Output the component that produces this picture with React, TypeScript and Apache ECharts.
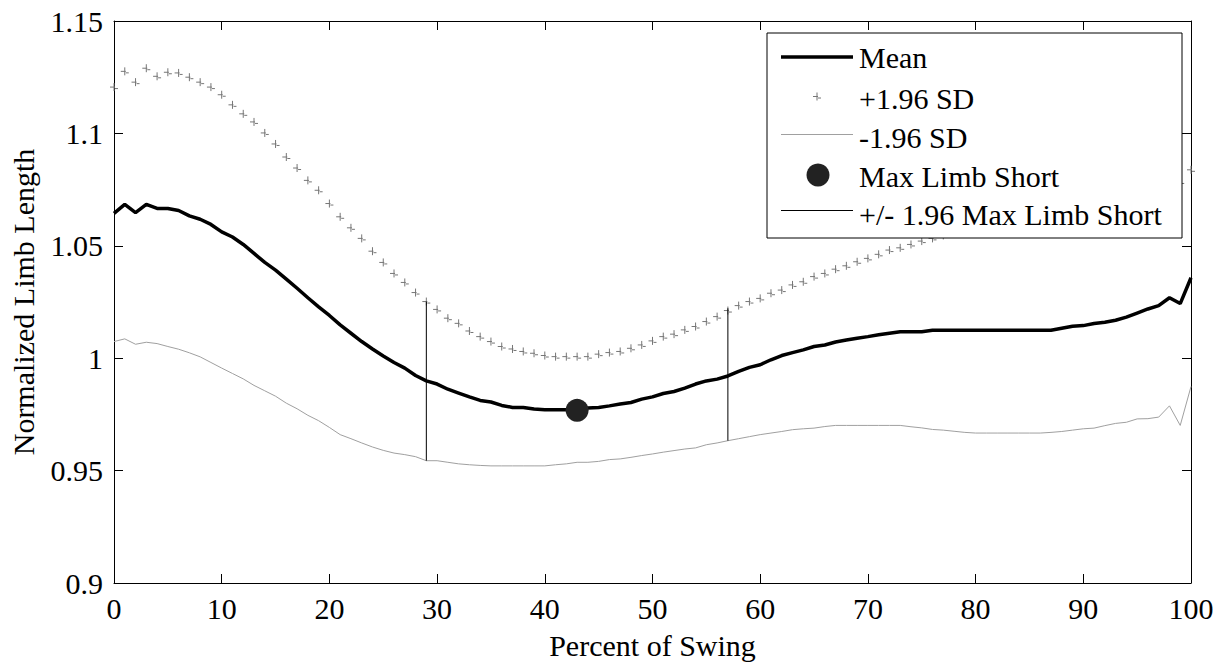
import React, { useEffect, useRef } from "react";
import * as echarts from "echarts";

// Percent of swing (x positions)
const percent: number[] = Array.from({ length: 101 }, (_, i) => i);

const meanValues: number[] = [
  1.0644, 1.0684, 1.0648, 1.0684, 1.0666, 1.0666, 1.0657, 1.0633, 1.0618, 1.0595,
  1.0562, 1.0539, 1.0506, 1.0466, 1.0426, 1.0392, 1.0352, 1.0311, 1.0269, 1.0228,
  1.0190, 1.0148, 1.0111, 1.0074, 1.0041, 1.0010, 0.9981, 0.9956, 0.9923, 0.9899,
  0.9885, 0.9862, 0.9845, 0.9828, 0.9812, 0.9805, 0.9790, 0.9781, 0.9781, 0.9774,
  0.9771, 0.9771, 0.9771, 0.9771, 0.9778, 0.9781, 0.9788, 0.9796, 0.9803, 0.9818,
  0.9828, 0.9843, 0.9852, 0.9867, 0.9885, 0.9899, 0.9907, 0.9921, 0.9941, 0.9959,
  0.9971, 0.9993, 1.0012, 1.0025, 1.0037, 1.0052, 1.0059, 1.0072, 1.0081, 1.0089,
  1.0096, 1.0104, 1.0111, 1.0118, 1.0118, 1.0118, 1.0124, 1.0124, 1.0124, 1.0124,
  1.0124, 1.0124, 1.0124, 1.0124, 1.0124, 1.0124, 1.0124, 1.0124, 1.0133, 1.0142,
  1.0145, 1.0154, 1.0160, 1.0169, 1.0183, 1.0201, 1.0219, 1.0234, 1.0269, 1.0243,
  1.0358,
];

const upperValues: number[] = [
  1.1206, 1.1276, 1.1228, 1.1290, 1.1254, 1.1272, 1.1269, 1.1250, 1.1228, 1.1206,
  1.1172, 1.1127, 1.1087, 1.1051, 1.1002, 1.0953, 1.0895, 1.0846, 1.0791, 1.0747,
  1.0688, 1.0629, 1.0580, 1.0533, 1.0476, 1.0426, 1.0377, 1.0337, 1.0292, 1.0252,
  1.0217, 1.0178, 1.0155, 1.0121, 1.0096, 1.0074, 1.0052, 1.0041, 1.0030, 1.0022,
  1.0012, 1.0007, 1.0007, 1.0007, 1.0007, 1.0018, 1.0025, 1.0030, 1.0044, 1.0059,
  1.0077, 1.0096, 1.0107, 1.0126, 1.0141, 1.0163, 1.0185, 1.0212, 1.0234, 1.0252,
  1.0266, 1.0289, 1.0303, 1.0326, 1.0340, 1.0363, 1.0377, 1.0396, 1.0411, 1.0429,
  1.0444, 1.0462, 1.0481, 1.0491, 1.0506, 1.0521, 1.0533, 1.0546, 1.0558, 1.0569,
  1.0581, 1.0592, 1.0604, 1.0615, 1.0627, 1.0638, 1.0650, 1.0661, 1.0672, 1.0684,
  1.0695, 1.0707, 1.0718, 1.0730, 1.0741, 1.0752, 1.0764, 1.0778, 1.0801, 1.0784,
  1.0838,
];

const lowerValues: number[] = [
  1.0074, 1.0086, 1.0062, 1.0071, 1.0065, 1.0052, 1.0040, 1.0024, 1.0006, 0.9981,
  0.9956, 0.9932, 0.9908, 0.9879, 0.9855, 0.9831, 0.9800, 0.9775, 0.9746, 0.9722,
  0.9692, 0.9660, 0.9642, 0.9623, 0.9605, 0.9590, 0.9578, 0.9571, 0.9562, 0.9544,
  0.9544, 0.9537, 0.9530, 0.9526, 0.9523, 0.9521, 0.9521, 0.9521, 0.9521, 0.9521,
  0.9521, 0.9526, 0.9530, 0.9537, 0.9537, 0.9541, 0.9549, 0.9552, 0.9559, 0.9567,
  0.9574, 0.9582, 0.9589, 0.9596, 0.9601, 0.9615, 0.9623, 0.9633, 0.9642, 0.9651,
  0.9660, 0.9667, 0.9674, 0.9682, 0.9686, 0.9689, 0.9696, 0.9701, 0.9701, 0.9701,
  0.9701, 0.9701, 0.9701, 0.9701, 0.9695, 0.9690, 0.9683, 0.9680, 0.9675, 0.9670,
  0.9667, 0.9667, 0.9667, 0.9667, 0.9667, 0.9667, 0.9667, 0.9670, 0.9674, 0.9680,
  0.9686, 0.9689, 0.9700, 0.9710, 0.9715, 0.9730, 0.9731, 0.9738, 0.9788, 0.9701,
  0.9874,
];

const maxLimbShortX = 43;
const maxLimbShortY = 0.9768;

const limbShortBarX: number[] = [29, 57];
const limbShortBarLow: number[] = [0.9544, 0.9633];
const limbShortBarHigh: number[] = [1.0252, 1.0222];

const legendLabels: string[] = [
  "Mean",
  "+1.96 SD",
  "-1.96 SD",
  "Max Limb Short",
  "+/- 1.96 Max Limb Short",
];

const FONT = "Liberation Serif";
const PLUS_COLOR = "#767676";
const LOWER_COLOR = "#a0a0a0";

export default function App() {
  const ref = useRef<HTMLDivElement>(null);

  useEffect(() => {
    document.body.style.margin = "0";
    if (!ref.current) return;
    const chart = echarts.init(ref.current, undefined, { renderer: "svg" });

    const axisCommon = {
      type: "value" as const,
      splitLine: { show: false },
      axisLine: { show: true, onZero: false, lineStyle: { color: "#000", width: 1 } },
      axisTick: { show: true, inside: true, length: 9, lineStyle: { color: "#000", width: 1 } },
    };

    const barSeries = limbShortBarX.map((x, i) => ({
      type: "line" as const,
      name: legendLabels[4],
      data: [
        [x, limbShortBarLow[i]],
        [x, limbShortBarHigh[i]],
      ],
      symbol: "none",
      lineStyle: { color: "#000", width: 1 },
      z: 3,
    }));

    const legendX = 767;
    const legendY = 33;
    const rowY = [57.5, 98, 137, 176, 214.5];
    const sampleX1 = 781;
    const sampleX2 = 853;
    const textX = 859;
    const textStyle = (text: string) => ({
      text,
      fill: "#000",
      fontFamily: FONT,
      fontSize: 30,
      textAlign: "left",
      textVerticalAlign: "middle",
      align: "left",
      verticalAlign: "middle",
    });

    chart.setOption({
      animation: false,
      backgroundColor: "#fff",
      textStyle: { fontFamily: FONT },
      grid: { left: 114, right: 38, top: 21, bottom: 81, containLabel: false },
      xAxis: [
        {
          ...axisCommon,
          position: "bottom",
          min: 0,
          max: 100,
          interval: 10,
          name: "Percent of Swing",
          nameLocation: "middle",
          nameGap: 47,
          nameTextStyle: { fontFamily: FONT, fontSize: 30, color: "#000" },
          axisLabel: { fontFamily: FONT, fontSize: 30, color: "#000", margin: 10 },
        },
        {
          ...axisCommon,
          position: "top",
          min: 0,
          max: 100,
          interval: 10,
          axisLabel: { show: false },
        },
      ],
      yAxis: [
        {
          ...axisCommon,
          position: "left",
          min: 0.9,
          max: 1.15,
          interval: 0.05,
          name: "Normalized Limb Length",
          nameLocation: "middle",
          nameGap: 76,
          nameTextStyle: { fontFamily: FONT, fontSize: 30, color: "#000" },
          axisLabel: {
            fontFamily: FONT,
            fontSize: 30,
            color: "#000",
            margin: 11,
            formatter: (v: number) => String(+v.toFixed(2)),
          },
        },
        {
          ...axisCommon,
          position: "right",
          min: 0.9,
          max: 1.15,
          interval: 0.05,
          axisLabel: { show: false },
        },
      ],
      series: [
        {
          type: "line",
          name: legendLabels[2],
          data: percent.map((x, i) => [x, lowerValues[i]]),
          symbol: "none",
          lineStyle: { color: LOWER_COLOR, width: 1 },
          z: 2,
        },
        {
          type: "scatter",
          name: legendLabels[1],
          data: percent.map((x, i) => [x, upperValues[i]]),
          symbol: "path://M0,4 L5,4 M4,0 L4,8 M5,5.5 L8,5.5",
          symbolSize: 8,
          itemStyle: { color: "rgba(0,0,0,0)", borderColor: PLUS_COLOR, borderWidth: 1, opacity: 1 },
          z: 2,
        },
        ...barSeries,
        {
          type: "line",
          name: legendLabels[0],
          data: percent.map((x, i) => [x, meanValues[i]]),
          symbol: "none",
          lineStyle: { color: "#000", width: 3.5 },
          z: 4,
        },
        {
          type: "scatter",
          name: legendLabels[3],
          data: [[maxLimbShortX, maxLimbShortY]],
          symbol: "circle",
          symbolSize: 23,
          itemStyle: { color: "#222", opacity: 1 },
          z: 5,
        },
      ],
      graphic: [
        {
          type: "rect",
          z: 100,
          shape: { x: legendX, y: legendY, width: 415, height: 205 },
          style: { fill: "#fff", stroke: "#000", lineWidth: 1 },
        },
        {
          type: "line",
          z: 101,
          shape: { x1: sampleX1, y1: 57, x2: sampleX2, y2: 57 },
          style: { stroke: "#000", lineWidth: 3.5 },
        },
        {
          type: "line",
          z: 101,
          shape: { x1: 813, y1: 96.5, x2: 818, y2: 96.5 },
          style: { stroke: PLUS_COLOR, lineWidth: 1 },
        },
        {
          type: "line",
          z: 101,
          shape: { x1: 817, y1: 92.5, x2: 817, y2: 100.5 },
          style: { stroke: PLUS_COLOR, lineWidth: 1 },
        },
        {
          type: "line",
          z: 101,
          shape: { x1: 818, y1: 98, x2: 821, y2: 98 },
          style: { stroke: PLUS_COLOR, lineWidth: 1 },
        },
        {
          type: "line",
          z: 101,
          shape: { x1: sampleX1, y1: 134.5, x2: sampleX2, y2: 134.5 },
          style: { stroke: LOWER_COLOR, lineWidth: 1 },
        },
        {
          type: "circle",
          z: 101,
          shape: { cx: 818, cy: 175, r: 11.5 },
          style: { fill: "#222" },
        },
        {
          type: "line",
          z: 101,
          shape: { x1: sampleX1, y1: 210.5, x2: sampleX2, y2: 210.5 },
          style: { stroke: "#000", lineWidth: 1 },
        },
        ...legendLabels.map((label, i) => ({
          type: "text",
          z: 101,
          x: textX,
          y: rowY[i],
          style: textStyle(label),
        })),
      ],
    });

    return () => {
      chart.dispose();
    };
  }, []);

  return <div ref={ref} style={{ width: 1229, height: 665 }} />;
}
